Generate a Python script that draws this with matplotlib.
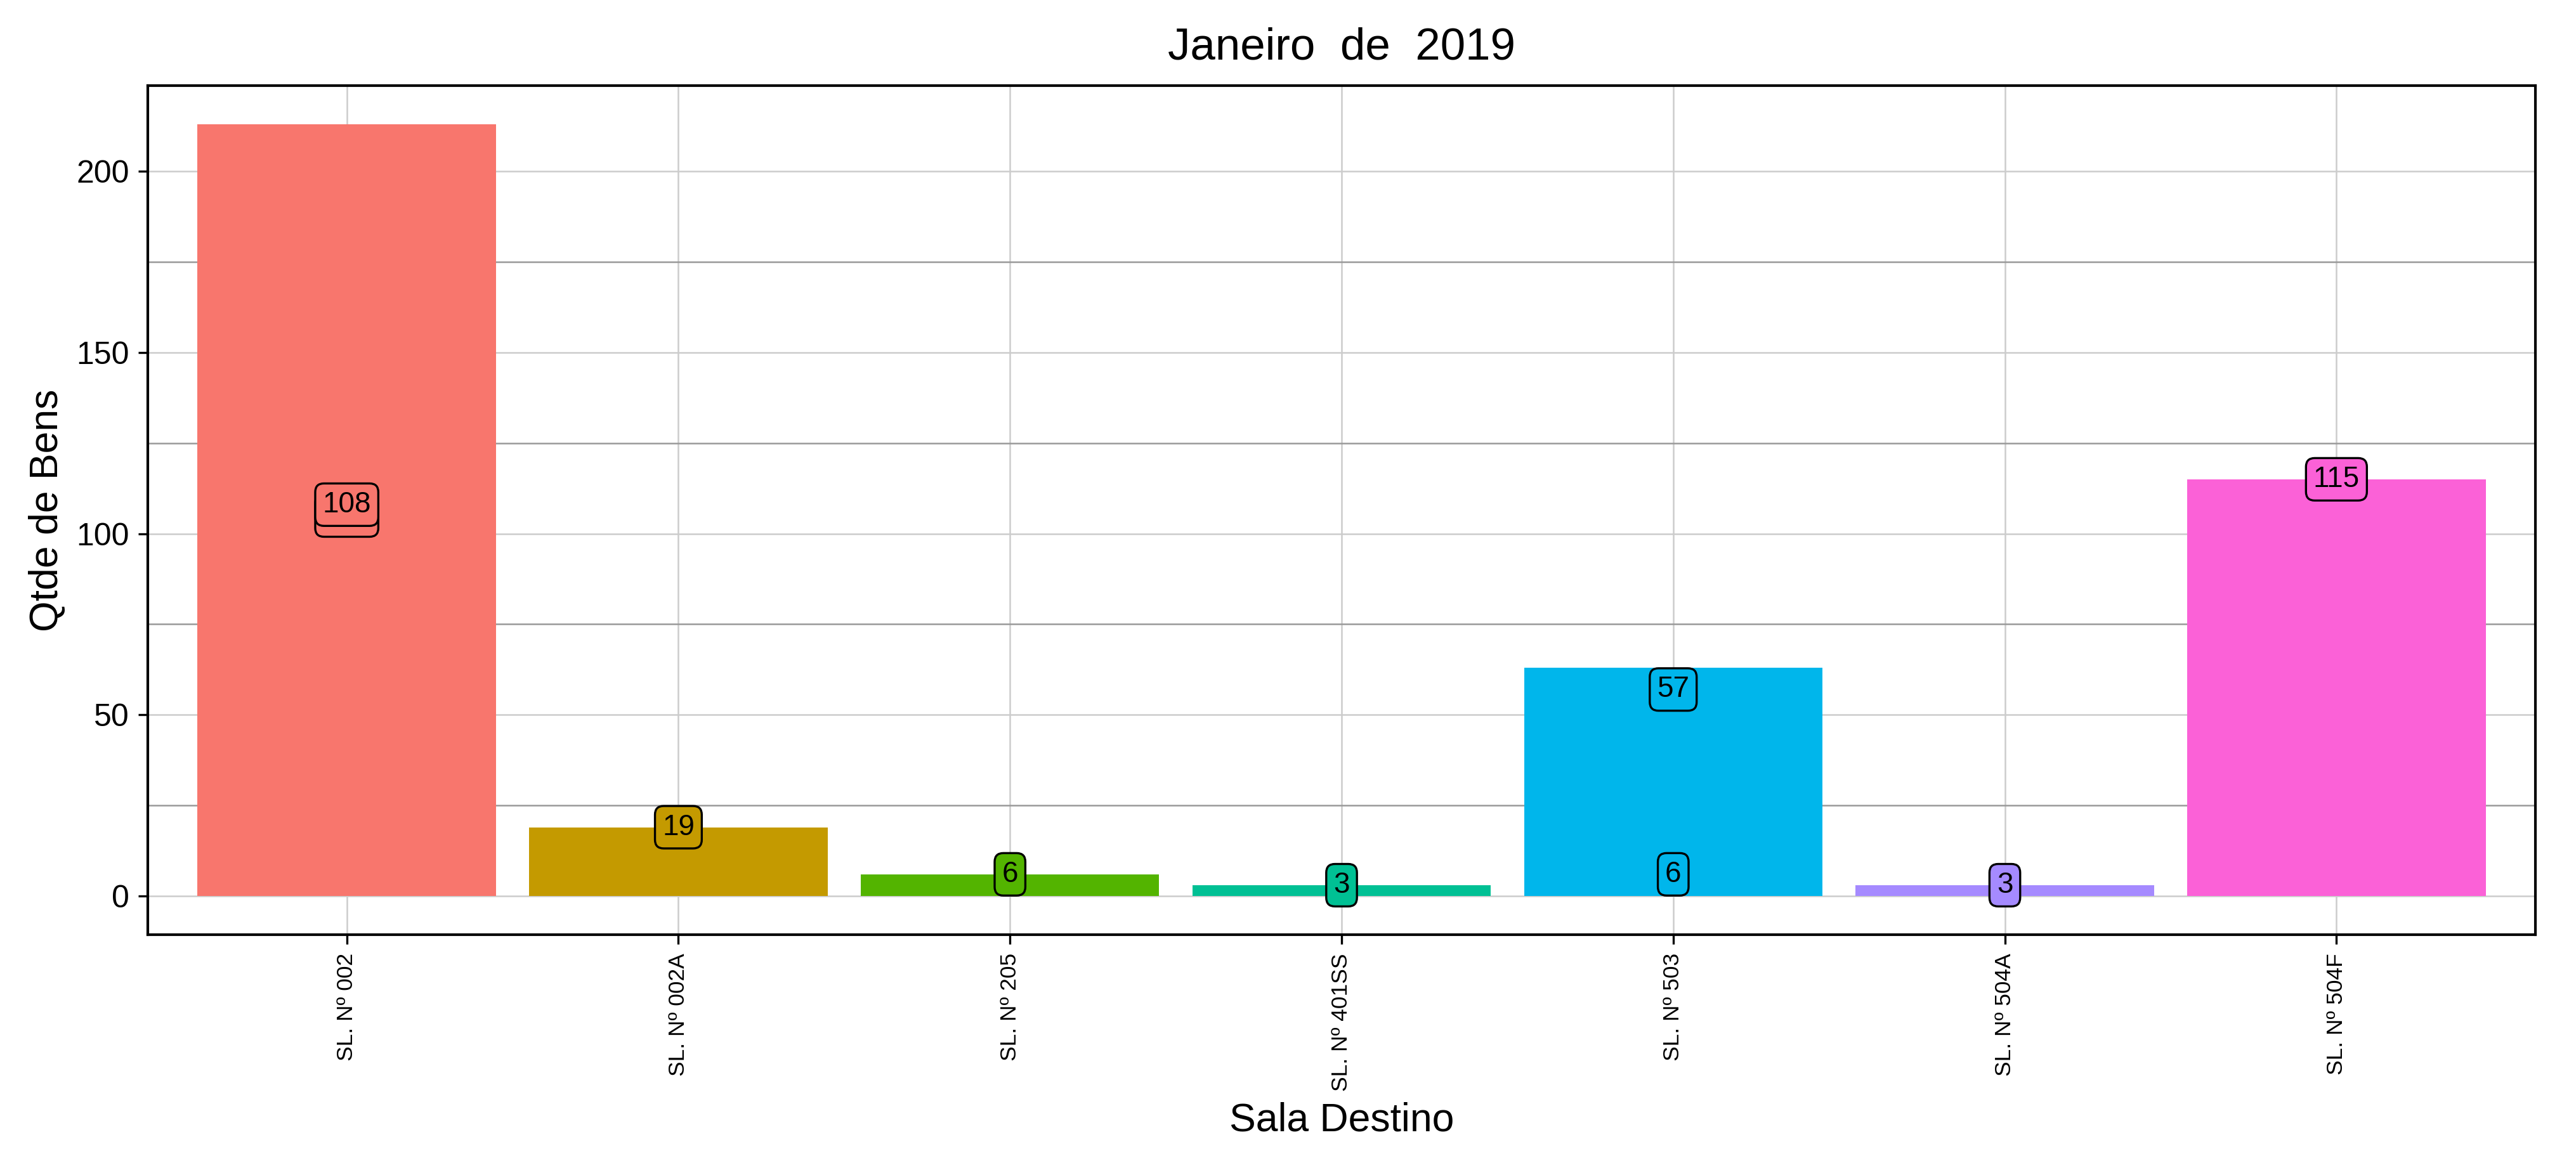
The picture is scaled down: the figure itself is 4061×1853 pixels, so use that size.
import matplotlib.pyplot as plt
import numpy as np

plt.rcParams['font.family'] = ['Liberation Sans', 'DejaVu Sans']

salas = ["SL. Nº 002", "SL. Nº 002A", "SL. Nº 205", "SL. Nº 401SS", "SL. Nº 503", "SL. Nº 504A", "SL. Nº 504F"]
partes = [[105, 108], [19], [6], [3], [6, 57], [3], [115]]
cores = ["#F8766D", "#C49A00", "#53B400", "#00C094", "#00B6EB", "#A58AFF", "#FB61D7"]

totais = [sum(p) for p in partes]
x = np.arange(len(salas))

fig = plt.figure(figsize=(13.54, 6.177), dpi=300)
ax = fig.add_axes([233 / 4062, 1 - 1474 / 1853, (3997 - 233) / 4062, (1474 - 135) / 1853])
ax.bar(x, totais, width=0.9, color=cores, zorder=2)
for i, p in enumerate(partes):
    for v in p:
        ax.text(x[i], v, str(v), ha="center", va="center", fontsize=11, zorder=3,
                bbox=dict(boxstyle="round,pad=0.25,rounding_size=0.3", fc=cores[i], ec="black", lw=0.8))

ax.set_xlim(-0.6, len(salas) - 0.4)
ax.set_ylim(-10.65, 223.65)
ax.set_yticks([0, 50, 100, 150, 200])
ax.set_yticks([25, 75, 125, 175], minor=True)
ax.tick_params(axis="y", which="minor", length=0)
ax.grid(which="major", color="#cccccc", lw=0.6, zorder=0)
ax.grid(which="minor", axis="y", color="#999999", lw=0.6, zorder=0)
ax.set_xticks(x)
ax.set_xticklabels(salas, rotation=90, fontsize=8.5)
ax.tick_params(axis="y", labelsize=12)
for s in ax.spines.values():
    s.set_linewidth(1.0)
ax.set_xlabel("Sala Destino", fontsize=15)
ax.set_ylabel("Qtde de Bens", fontsize=15)
ax.set_title("Janeiro  de  2019", fontsize=17, pad=10)
fig.savefig("out.png")
